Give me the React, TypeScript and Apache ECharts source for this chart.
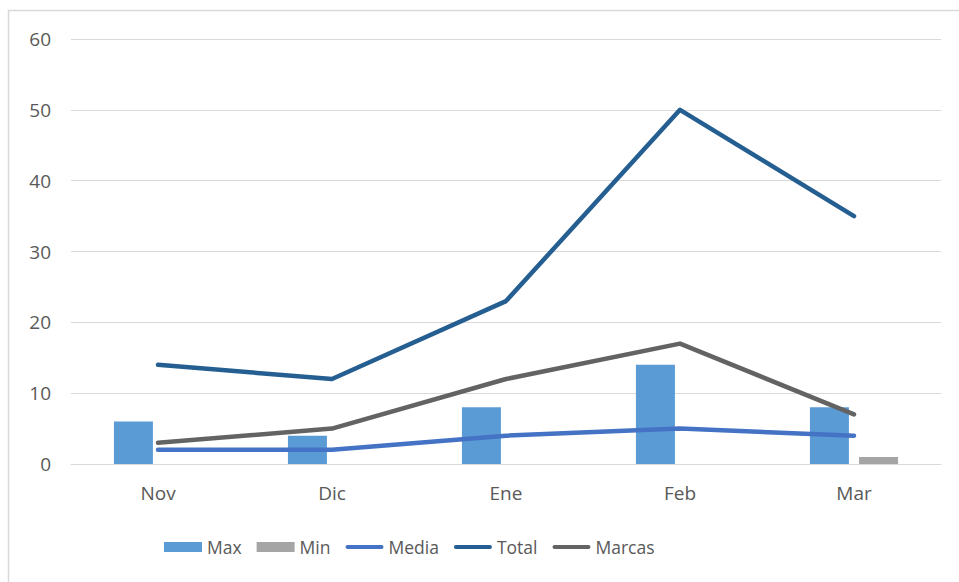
import React, { useEffect, useRef } from "react";
import * as echarts from "echarts";

const categories = ["Nov", "Dic", "Ene", "Feb", "Mar"];
const maxValues = [6, 4, 8, 14, 8];
const minValues = [0, 0, 0, 0, 1];
const mediaValues = [2, 2, 4, 5, 4];
const totalValues = [14, 12, 23, 50, 35];
const marcasValues = [3, 5, 12, 17, 7];

const FONT = "'Open Sans', 'Liberation Sans', sans-serif";
const TXT = "#595959";
const LINE_ICON = "path://M2,0 L36,0 A2,2 0 0 1 36,4 L2,4 A2,2 0 0 1 2,0 Z";

export default function App() {
  const ref = useRef<HTMLDivElement>(null);
  useEffect(() => {
    if (!ref.current) return;
    const chart = echarts.init(ref.current, null, { renderer: "svg" });
    const lineSeries = (name: string, data: number[], color: string, width: number) => ({
      name,
      type: "line",
      data,
      symbol: "none",
      lineStyle: { color, width, cap: "round", join: "round" },
      itemStyle: { color },
      z: 3,
    });
    chart.setOption({
      animation: false,
      textStyle: { fontFamily: FONT },
      graphic: [
        {
          type: "rect",
          shape: { x: 8.5, y: 10.5, width: 1000, height: 700 },
          style: { fill: "none", stroke: "#d9d9d9", lineWidth: 1.5 },
          silent: true,
        },
      ],
      grid: { left: 71, right: 18, top: 39, bottom: 118, containLabel: false },
      xAxis: {
        type: "category",
        data: categories,
        axisLine: { show: true, lineStyle: { color: "#d9d9d9", width: 1 } },
        axisTick: { show: false },
        axisLabel: { color: TXT, fontSize: 19, margin: 19, fontFamily: FONT },
        splitLine: { show: false },
      },
      yAxis: {
        type: "value",
        min: 0,
        max: 60,
        interval: 10,
        axisLine: { show: false },
        axisTick: { show: false },
        axisLabel: { color: TXT, fontSize: 19, margin: 20, fontFamily: FONT },
        splitLine: { lineStyle: { color: "#d9d9d9", width: 1 } },
      },
      legend: {
        bottom: 21,
        left: 159,
        itemWidth: 38,
        itemHeight: 10,
        itemGap: 15,
        textStyle: { color: TXT, fontSize: 17.5, fontFamily: FONT },
        data: [
          { name: "Max", icon: "rect" },
          { name: "Min", icon: "rect" },
          { name: "Media", icon: LINE_ICON },
          { name: "Total", icon: LINE_ICON },
          { name: "Marcas", icon: LINE_ICON },
        ],
      },
      series: [
        {
          name: "Max",
          type: "bar",
          data: maxValues,
          barWidth: 39,
          barGap: "26%",
          itemStyle: { color: "#5b9bd5" },
          z: 2,
        },
        {
          name: "Min",
          type: "bar",
          data: minValues,
          barWidth: 39,
          itemStyle: { color: "#a5a5a5" },
          z: 2,
        },
        lineSeries("Media", mediaValues, "#4472c4", 4.5),
        lineSeries("Total", totalValues, "#255e91", 4.5),
        lineSeries("Marcas", marcasValues, "#636363", 4.5),
      ],
    });
    return () => chart.dispose();
  }, []);
  return (
    <div
      ref={ref}
      style={{ position: "fixed", left: 0, top: 0, width: 959, height: 582, background: "#fff" }}
    />
  );
}
